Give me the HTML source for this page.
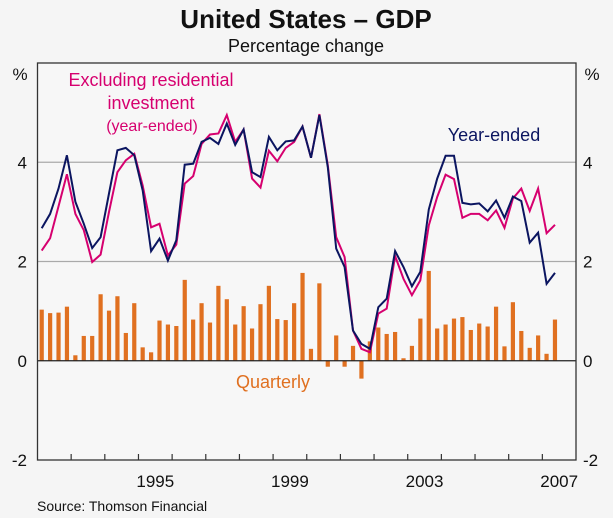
<!DOCTYPE html>
<html><head><meta charset="utf-8"><style>
html,body{margin:0;padding:0;background:#f5f5f5;}
svg{display:block;font-family:"Liberation Sans",Arial,sans-serif;}
</style></head><body>
<svg id="chart" width="613" height="518" viewBox="0 0 613 518" xmlns="http://www.w3.org/2000/svg">
<rect x="0" y="0" width="613" height="518" fill="#f5f5f5"/>
<text x="306" y="28" text-anchor="middle" font-size="26" font-weight="bold" fill="#111">United States – GDP</text>
<text x="306" y="52" text-anchor="middle" font-size="18" fill="#111">Percentage change</text>
<text x="20" y="80" text-anchor="middle" font-size="17" fill="#111">%</text>
<text x="592" y="80" text-anchor="middle" font-size="17" fill="#111">%</text>
<g id="grid"></g>
<g id="bars"></g>
<g id="lines"></g>
<g id="axes"></g>
<text x="151" y="86" text-anchor="middle" font-size="18" fill="#d6006f">Excluding residential</text>
<text x="151" y="109" text-anchor="middle" font-size="18" fill="#d6006f">investment</text>
<text x="152" y="131" text-anchor="middle" font-size="16" fill="#d6006f">(year-ended)</text>
<text x="494" y="141" text-anchor="middle" font-size="18" fill="#0b1560">Year-ended</text>
<text x="273" y="388" text-anchor="middle" font-size="18" fill="#e07020">Quarterly</text>
<text x="37" y="511" font-size="14" fill="#111">Source: Thomson Financial</text>
</svg>
<script>
const quarterly = [1.03,0.96,0.97,1.09,0.11,0.50,0.50,1.34,1.01,1.30,0.56,1.16,0.27,0.17,0.81,0.73,0.70,1.63,0.83,1.16,0.77,1.51,1.24,0.73,1.10,0.65,1.14,1.51,0.84,0.82,1.16,1.77,0.24,1.56,-0.12,0.51,-0.12,0.30,-0.36,0.39,0.67,0.54,0.58,0.05,0.30,0.85,1.81,0.65,0.73,0.85,0.88,0.62,0.75,0.69,1.09,0.29,1.18,0.60,0.26,0.51,0.14,0.83];
const yearEnded = [2.67,2.96,3.47,4.14,3.20,2.76,2.27,2.49,3.37,4.24,4.29,4.14,3.43,2.21,2.46,2.02,2.43,3.95,3.97,4.41,4.49,4.37,4.78,4.35,4.66,3.80,3.70,4.51,4.24,4.42,4.44,4.72,4.09,4.95,3.90,2.26,1.89,0.61,0.34,0.24,1.08,1.25,2.21,1.89,1.50,1.79,3.05,3.67,4.13,4.13,3.18,3.15,3.17,3.01,3.23,2.88,3.31,3.22,2.38,2.58,1.55,1.77];
const exResidential = [2.22,2.47,3.11,3.76,2.96,2.63,1.99,2.14,3.00,3.80,4.04,4.17,3.53,2.69,2.76,2.12,2.34,3.57,3.72,4.37,4.56,4.58,4.95,4.41,4.66,3.67,3.49,4.23,4.02,4.29,4.41,4.72,4.09,4.97,3.94,2.49,2.09,0.61,0.24,0.17,0.95,1.05,2.11,1.65,1.32,1.62,2.73,3.30,3.75,3.66,2.88,2.96,2.96,2.83,3.03,2.68,3.27,3.47,3.02,3.47,2.57,2.74];
const yTicks = [-2,0,2,4];
const xLabels = ["1995","1999","2003","2007"];
const startYear = 1992, endYear = 2008;

const NS="http://www.w3.org/2000/svg";
const L=37.5,R=576,T=63,B=460,yMin=-2,yMax=6;
const qw=(R-L)/((endYear-startYear)*4);
function xq(i){return L+qw*(i+0.5);}
function xYear(y){return L+(y-startYear)*qw*4;}
function yv(v){return B-(v-yMin)/(yMax-yMin)*(B-T);}
function mk(tag,attrs,parent){const e=document.createElementNS(NS,tag);for(const k in attrs)e.setAttribute(k,attrs[k]);parent.appendChild(e);return e;}
const grid=document.getElementById('grid'),bars=document.getElementById('bars'),lines=document.getElementById('lines'),axes=document.getElementById('axes');

mk('rect',{x:L,y:T,width:R-L,height:B-T,fill:'#f7f7f7'},grid);
yTicks.forEach(t=>{
  if(t!==0&&t!==yMin){
    const g=mk('line',{x1:L,x2:R,y1:yv(t),y2:yv(t),stroke:'#aaa','stroke-width':1.3},grid);
    
    
  }
  const a=mk('text',{x:27,y:yv(t)+6,'text-anchor':'end','font-size':17,fill:'#111'},axes);
  a.textContent=t;
  
  
  const b=mk('text',{x:583,y:yv(t)+6,'text-anchor':'start','font-size':17,fill:'#111'},axes);
  b.textContent=t;
  
  
});

quarterly.forEach((v,i)=>{
  const y0=yv(0),y1=yv(v);
  const r=mk('rect',{x:xq(i)-2.1,y:Math.min(y0,y1),width:4.2,height:Math.abs(y1-y0),fill:'#e07020'},bars);
  
  
});

function line(arr,color,name){
  const d=arr.map((v,i)=>(i?'L':'M')+xq(i).toFixed(1)+','+yv(v).toFixed(1)).join(' ');
  const p=mk('path',{d:d,fill:'none',stroke:color,'stroke-width':2,'stroke-linejoin':'miter'},lines);
  
  
}
line(exResidential,'#d6006f','ex-residential-line');
line(yearEnded,'#0b1560','year-ended-line');

const z=mk('line',{x1:L,x2:R,y1:yv(0),y2:yv(0),stroke:'#222','stroke-width':1.3},axes);


const fr=mk('rect',{x:L,y:T,width:R-L,height:B-T,fill:'none',stroke:'#333','stroke-width':1.3},axes);


for(let y=startYear+1;y<endYear;y++){
  const t=mk('line',{x1:xYear(y),x2:xYear(y),y1:B,y2:B-6,stroke:'#333','stroke-width':1.2},axes);
  
  
}
xLabels.forEach(s=>{
  const yr=+s;
  const t=mk('text',{x:(xYear(yr)+xYear(yr+1))/2,y:487,'text-anchor':'middle','font-size':17,fill:'#111'},axes);
  t.textContent=s;
  
  
});
</script>
</body></html>
